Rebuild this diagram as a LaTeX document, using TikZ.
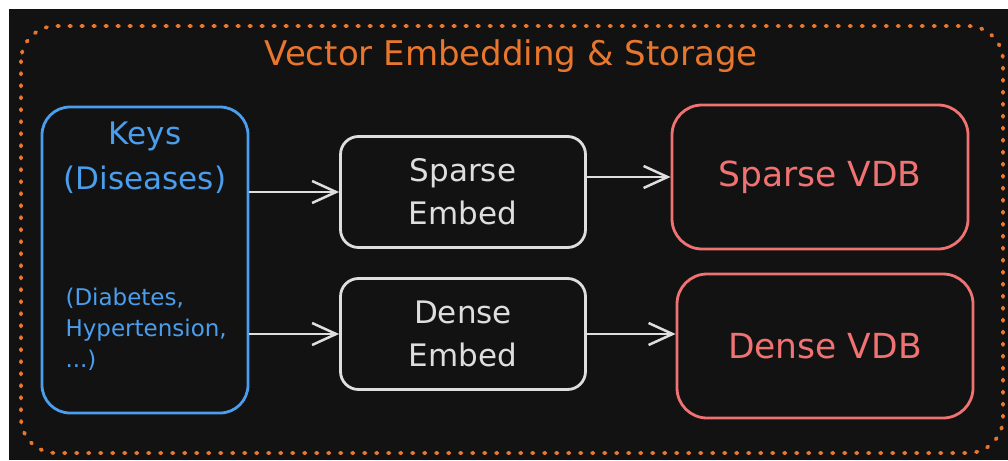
\documentclass[tikz,border=0pt]{standalone}
\usepackage{fontspec}
\setmainfont{DejaVu Sans}
\usetikzlibrary{arrows.meta}
\definecolor{bgdark}{HTML}{121212}
\definecolor{frameorange}{HTML}{E8762D}
\definecolor{keyblue}{HTML}{4A9EED}
\definecolor{vdbred}{HTML}{F07272}
\definecolor{chalk}{HTML}{DEDEDE}
\begin{document}
\begin{tikzpicture}
  [x=1pt,y=-1pt,
   box/.style={draw, rounded corners=#1, line width=2.8pt, inner sep=0pt},
   box/.default=18pt,
   embed/.style={box=18pt, draw=chalk, text=chalk, align=center,
     minimum width=245pt, minimum height=111pt, font=\fontsize{31}{43}\selectfont},
   vdb/.style={box=30pt, draw=vdbred, text=vdbred,
     minimum width=296pt, minimum height=144pt, font=\fontsize{34.5}{40}\selectfont},
   flow/.style={draw=chalk, line width=2.5pt, -{Straight Barb[length=24pt,width=22pt]}}]
  \useasboundingbox (0,0) rectangle (1008,460);
  \fill[white] (0,0) rectangle (1008,460);
  \fill[bgdark] (9,9) rectangle (1008,460);

  \draw[frameorange, line width=3.8pt, line cap=round, dash pattern=on 1.5pt off 10.5pt,
    rounded corners=35pt] (21,26) rectangle (1003,453);
  \node[text=frameorange, font=\fontsize{34}{40}\selectfont, anchor=base] (title) at (511,65)
    {Vector Embedding \& Storage};

  \node[box=28pt, draw=keyblue, minimum width=206pt, minimum height=306pt] (keys) at (145,260) {};
  \node[text=keyblue, align=center, font=\fontsize{31}{45}\selectfont] (keyname) at (145,158)
    {Keys\\(Diseases)};
  \node[text=keyblue, align=left, anchor=west, font=\fontsize{23}{31}\selectfont] (keylist) at (62,329)
    {(Diabetes,\\Hypertension,\\...)};

  \node[embed] (sparse) at (463,192) {Sparse\\Embed};
  \node[embed] (dense) at (463,334) {Dense\\Embed};
  \node[vdb] (sparsevdb) at (820,177) {Sparse VDB};
  \node[vdb] (densevdb) at (825,346) {Dense VDB};

  \draw[flow] (keys.east |- sparse) -- (sparse.west);
  \draw[flow] (keys.east |- dense) -- (dense.west);
  \draw[flow] (sparse.east |- sparsevdb) -- (sparsevdb.west);
  \draw[flow] (dense.east) -- (dense.east -| densevdb.west);
\end{tikzpicture}
\end{document}
